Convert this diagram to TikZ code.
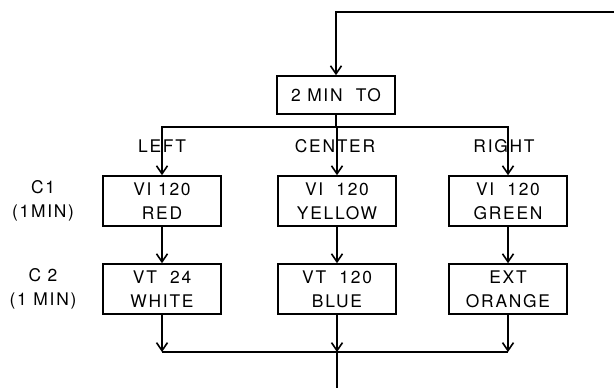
\documentclass[tikz,border=0pt]{standalone}
\usepackage{fontspec}
\setmainfont{TeX Gyre Heros}[LetterSpace=10]
\usetikzlibrary{arrows.meta,positioning}

\begin{document}
\begin{tikzpicture}[
    x=0.5pt, y=-0.5pt,
    line width=0.8pt,
    box/.style={draw, minimum width=59pt, minimum height=25pt, align=center, inner sep=0pt},
    lbl/.style={align=center, inner sep=0pt},
    arr/.style={-{Straight Barb[length=4pt,width=5.5pt]}},
    font=\fontsize{8.7}{12}\selectfont
]
  \useasboundingbox (0,0) rectangle (614,388);

  % Start
  \node[box, minimum height=19pt] (start) at (336,95) {2 MIN~~TO};

  % Channels
  \node[lbl] (lleft)   at (162,146) {LEFT};
  \node[lbl] (lcenter) at (335,146) {CENTER};
  \node[lbl] (lright)  at (504,146) {RIGHT};

  % Components
  \node[lbl] (cone) at (43,201) {C1\\(1MIN)};
  \node[lbl] (ctwo) at (43,289) {C 2\\(1 MIN)};

  % First row
  \node[box] (l1) at (162,201) {VI 120\\RED};
  \node[box] (m1) at (337,201) {VI~~120\\YELLOW};
  \node[box] (r1) at (508,201) {VI~~120\\GREEN};

  % Second row
  \node[box] (l2) at (162,289) {VT~~24\\WHITE};
  \node[box] (m2) at (337,289) {VT~~120\\BLUE};
  \node[box] (r2) at (508,289) {EXT\\ORANGE};

  % Feedback into start
  \coordinate (fb) at (614,12);
  \draw[arr] (fb) -| (start.north);

  % Split into channels
  \coordinate (split) at (336,127);
  \draw (start.south) -- (split);
  \foreach \b in {l1,m1,r1}
    \draw[arr] (split) -| (\b.north);

  % C1 to C2
  \foreach \i in {l,m,r}
    \draw[arr] (\i1) -- (\i2);

  % Join
  \coordinate (join) at (337,352);
  \foreach \b in {l2,m2,r2}
    \draw[arr] (\b.south) -- (\b.south |- join);
  \draw (l2.south |- join) -- (r2.south |- join);
  \coordinate (out) at (337,388);
  \draw (join) -- (out);

\end{tikzpicture}
\end{document}
